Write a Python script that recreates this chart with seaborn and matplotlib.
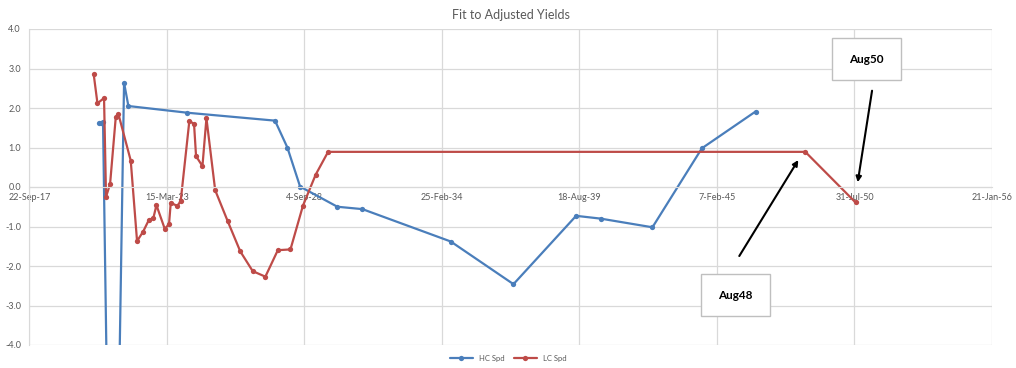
import pandas as pd
import numpy as np
import seaborn as sns
import matplotlib.pyplot as plt
from matplotlib.patches import Rectangle

# HC spread points (maturity date, spread)
hc_dates = ['2020-07-02', '2020-08-06', '2020-08-29', '2021-01-17', '2021-07-01',
            '2021-09-02', '2024-01-08', '2027-07-05', '2028-01-01', '2028-07-04',
            '2029-12-28', '2030-12-27', '2034-07-04', '2037-01-01', '2039-07-01',
            '2040-06-20', '2042-07-15', '2044-07-03', '2046-08-22']
hc_spd = [1.61, 1.63, 1.65, -15.0, 2.64,
          2.05, 1.88, 1.68, 1.00, 0.01,
          -0.50, -0.56, -1.38, -2.46, -0.73,
          -0.80, -1.02, 0.98, 1.91]

# LC spread points
lc_dates = ['2020-04-15', '2020-06-09', '2020-09-13', '2020-10-12', '2020-12-10',
            '2021-03-02', '2021-04-11', '2021-10-06', '2022-01-06', '2022-04-04',
            '2022-06-25', '2022-09-01', '2022-10-15', '2023-02-13', '2023-04-16',
            '2023-05-11', '2023-08-16', '2023-10-03', '2024-02-06', '2024-04-14',
            '2024-05-13', '2024-08-14', '2024-10-11', '2025-02-15', '2025-08-15',
            '2026-02-15', '2026-08-15', '2027-02-15', '2027-08-15', '2028-02-15',
            '2028-08-15', '2029-02-15', '2029-08-15', '2048-08-15', '2050-08-15']
lc_spd = [2.86, 2.12, 2.25, -0.25, 0.08,
          1.76, 1.84, 0.67, -1.37, -1.13,
          -0.84, -0.78, -0.46, -1.06, -0.94,
          -0.40, -0.48, -0.35, 1.68, 1.59,
          0.78, 0.53, 1.74, -0.08, -0.86,
          -1.63, -2.13, -2.27, -1.60, -1.58,
          -0.47, 0.31, 0.89, 0.89, -0.39]

x_start = '2017-09-22'
x_tick_step_days = 2000
n_ticks = 8
y_ticks = [-4, -3, -2, -1, 0, 1, 2, 3, 4]

df_hc = pd.DataFrame({'date': pd.to_datetime(hc_dates), 'spd': hc_spd})
df_lc = pd.DataFrame({'date': pd.to_datetime(lc_dates), 'spd': lc_spd})

sns.set_style('white')
plt.rcParams['font.family'] = ['Lato', 'DejaVu Sans']

mau_xanh = '#4A7EBB'
mau_do = '#BE4B48'
mau_chu = '#595959'
mau_luoi = '#D9D9D9'

fig = plt.figure(figsize=(10.16, 3.68), dpi=100)
ax = fig.add_axes([29.3 / 1016, 1 - 345 / 368, 962.7 / 1016, 316 / 368])

sns.lineplot(data=df_hc, x='date', y='spd', ax=ax, color=mau_xanh, lw=1.6,
             marker='o', markersize=3.8, markeredgewidth=0, sort=False,
             estimator=None, label='HC Spd')
sns.lineplot(data=df_lc, x='date', y='spd', ax=ax, color=mau_do, lw=1.6,
             marker='o', markersize=3.8, markeredgewidth=0, sort=False,
             estimator=None, label='LC Spd')

tick_dates = pd.date_range(x_start, periods=n_ticks, freq=f'{x_tick_step_days}D')
ax.set_xlim(tick_dates[0], tick_dates[-1])
ax.set_ylim(-4, 4)
ax.set_xticks(tick_dates)
ax.set_xticklabels([f"{d.day}-{d.strftime('%b-%y')}" for d in tick_dates])
ax.set_yticks(y_ticks)
ax.set_yticklabels([f'{v:.1f}' for v in y_ticks])

ax.grid(True, color=mau_luoi, lw=0.9)
ax.set_axisbelow(True)
for s in ['top', 'right']:
    ax.spines[s].set_visible(False)
ax.spines['bottom'].set_position(('data', 0))
ax.spines['bottom'].set_color(mau_luoi)
ax.spines['left'].set_color(mau_luoi)
ax.tick_params(axis='x', length=0, pad=4, labelsize=6.5, labelcolor=mau_chu)
ax.tick_params(axis='y', length=4, color=mau_luoi, pad=2, labelsize=6.5, labelcolor=mau_chu)
ax.set_xlabel('')
ax.set_ylabel('')
ax.set_title('Fit to Adjusted Yields', fontsize=9, color=mau_chu, pad=7)

handles, labels = ax.get_legend_handles_labels()
if ax.get_legend() is not None:
    ax.get_legend().remove()
fig.legend(handles, labels, loc='center', bbox_to_anchor=(0.5, 0.027), ncol=2,
           frameon=False, fontsize=5.5, handlelength=3, columnspacing=1.2,
           labelcolor=mau_chu)

# text boxes and arrows
for (bx, by, chu) in [(0.6977, 0.0918, 'Aug48'), (0.8341, 0.8386, 'Aug50')]:
    ax.add_patch(Rectangle((bx, by), 0.0717, 0.132, transform=ax.transAxes,
                           facecolor='white', edgecolor='#BFBFBF', lw=1,
                           zorder=5, clip_on=False))
    ax.text(bx + 0.0717 / 2, by + 0.066, chu, transform=ax.transAxes,
            ha='center', va='center', fontsize=8.5, fontweight='bold',
            color='black', zorder=6)

ax.annotate('', xy=(0.7988, 0.5854), xytext=(0.7375, 0.2816),
            xycoords='axes fraction', textcoords='axes fraction',
            arrowprops=dict(arrowstyle='-|>', color='black', lw=1.5,
                            mutation_scale=8, shrinkA=0, shrinkB=0), zorder=6)
ax.annotate('', xy=(0.8605, 0.5149), xytext=(0.8754, 0.8047),
            xycoords='axes fraction', textcoords='axes fraction',
            arrowprops=dict(arrowstyle='-|>', color='black', lw=1.5,
                            mutation_scale=8, shrinkA=0, shrinkB=0), zorder=6)

plt.savefig('out.png', dpi=100)
